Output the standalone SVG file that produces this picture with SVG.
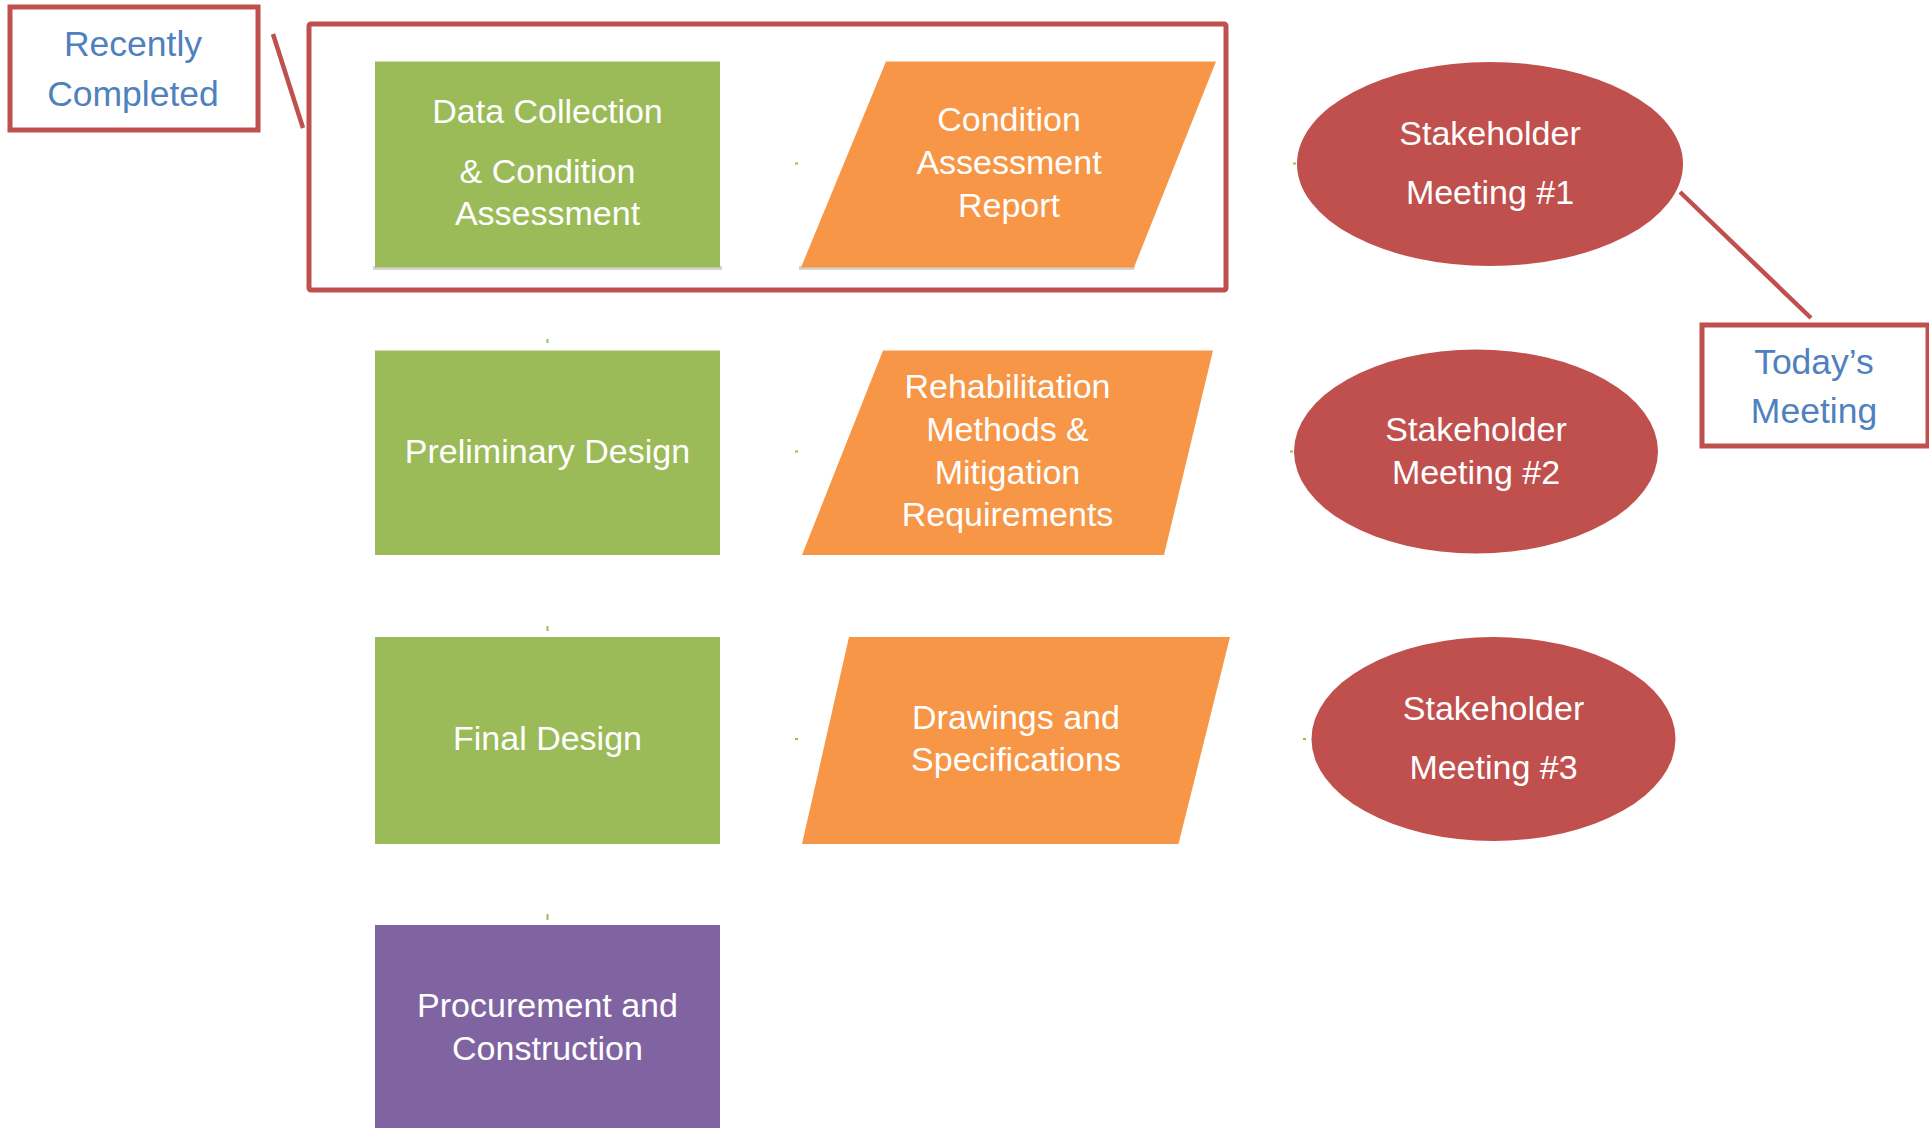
<svg xmlns="http://www.w3.org/2000/svg" width="1929" height="1128" viewBox="0 0 1929 1128">
  <style>
    .step { fill: #9BBB59; }
    .doc { fill: #F79646; }
    .meet { fill: #C0504D; }
    .final { fill: #8064A2; }
    .shadow { fill: #D4D4D4; }
    .lbl { font-family: "Liberation Sans", Arial, sans-serif; font-size: 34px; fill: #FFFFFF; text-anchor: middle; }
    .note { font-family: "Liberation Sans", Arial, sans-serif; font-size: 35.5px; fill: #4F81BD; text-anchor: middle; }
    .frame { fill: none; stroke: #C0504D; stroke-width: 5; }
    .lead { stroke: #C0504D; stroke-width: 4.5; fill: none; }
    .tick { stroke: #9BBB59; stroke-width: 2; }
  </style>
  <rect width="1929" height="1128" fill="#FFFFFF"/>

  <!-- callout frames and leader lines -->
  <g id="connectors">
    <line class="lead" x1="273" y1="34" x2="303" y2="128"/>
    <line class="lead" x1="1680" y1="192" x2="1811" y2="318"/>
    <!-- short stubs left over between shapes -->
    <line class="tick" x1="547.5" y1="339" x2="547.5" y2="343" stroke="#7FBF8F"/>
    <line class="tick" x1="547.5" y1="626" x2="547.5" y2="631" stroke="#8FAFC8"/>
    <line class="tick" x1="547.5" y1="914" x2="547.5" y2="920" stroke="#A08CC0"/>
    <line class="tick" x1="795" y1="163.5" x2="798" y2="163.5"/>
    <line class="tick" x1="795" y1="451.5" x2="798" y2="451.5" stroke="#7FBF8F"/>
    <line class="tick" x1="795" y1="739" x2="798" y2="739" stroke="#8FAFC8"/>
    <line class="tick" x1="1293" y1="163.5" x2="1296" y2="163.5"/>
    <line class="tick" x1="1290" y1="451.5" x2="1293" y2="451.5" stroke="#7FBF8F"/>
    <line class="tick" x1="1303" y1="739" x2="1306" y2="739" stroke="#8FAFC8"/>
  </g>

  <g id="recently-completed">
    <rect class="frame" x="10" y="7" width="248" height="123"/>
    <text class="note" x="133" y="56">Recently</text>
    <text class="note" x="133" y="106">Completed</text>
  </g>

  <g id="completed-frame">
    <rect class="frame" x="309" y="24" width="917" height="266" rx="2"/>
  </g>

  <!-- row 1 -->
  <g id="data-collection">
    <rect class="shadow" x="373" y="266" width="349" height="4"/>
    <rect class="step" x="375" y="61.5" width="345" height="206"/>
    <text class="lbl" x="547.5" y="123">Data Collection</text>
    <text class="lbl" x="547.5" y="183">&amp; Condition</text>
    <text class="lbl" x="547.5" y="225">Assessment</text>
  </g>
  <g id="condition-report">
    <polygon class="shadow" points="799,266 1135,266 1134,270 799,270"/>
    <polygon class="doc" points="886,61.5 1216,61.5 1134,267.5 801,267.5"/>
    <text class="lbl" x="1009" y="131">Condition</text>
    <text class="lbl" x="1009" y="174">Assessment</text>
    <text class="lbl" x="1009" y="217">Report</text>
  </g>
  <g id="meeting-1">
    <ellipse class="meet" cx="1490" cy="164" rx="193" ry="102"/>
    <text class="lbl" x="1490" y="145">Stakeholder</text>
    <text class="lbl" x="1490" y="204">Meeting #1</text>
  </g>
  <g id="todays-meeting">
    <rect class="frame" x="1702" y="325" width="226" height="121"/>
    <text class="note" x="1814" y="374">Today’s</text>
    <text class="note" x="1814" y="423">Meeting</text>
  </g>

  <!-- row 2 -->
  <g id="preliminary-design">
    <rect class="step" x="375" y="350.5" width="345" height="204.5"/>
    <text class="lbl" x="547.5" y="463">Preliminary Design</text>
  </g>
  <g id="rehab-methods">
    <polygon class="doc" points="883,350.5 1213,350.5 1164,555 802,555"/>
    <text class="lbl" x="1007.5" y="398">Rehabilitation</text>
    <text class="lbl" x="1007.5" y="441">Methods &amp;</text>
    <text class="lbl" x="1007.5" y="484">Mitigation</text>
    <text class="lbl" x="1007.5" y="526">Requirements</text>
  </g>
  <g id="meeting-2">
    <ellipse class="meet" cx="1476" cy="451.5" rx="182" ry="102"/>
    <text class="lbl" x="1476" y="441">Stakeholder</text>
    <text class="lbl" x="1476" y="484">Meeting #2</text>
  </g>

  <!-- row 3 -->
  <g id="final-design">
    <rect class="step" x="375" y="637" width="345" height="207"/>
    <text class="lbl" x="547.5" y="750">Final Design</text>
  </g>
  <g id="drawings-specs">
    <polygon class="doc" points="849,637 1230,637 1178.5,844 802,844"/>
    <text class="lbl" x="1016" y="729">Drawings and</text>
    <text class="lbl" x="1016" y="771">Specifications</text>
  </g>
  <g id="meeting-3">
    <ellipse class="meet" cx="1493.5" cy="739" rx="182" ry="102"/>
    <text class="lbl" x="1493.5" y="720">Stakeholder</text>
    <text class="lbl" x="1493.5" y="779">Meeting #3</text>
  </g>

  <!-- row 4 -->
  <g id="procurement">
    <rect class="final" x="375" y="925" width="345" height="203"/>
    <text class="lbl" x="547.5" y="1017">Procurement and</text>
    <text class="lbl" x="547.5" y="1060">Construction</text>
  </g>
</svg>
